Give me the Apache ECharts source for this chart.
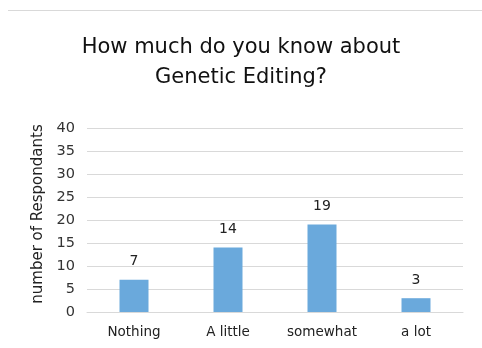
<!DOCTYPE html>
<html>
<head>
<meta charset="utf-8">
<style>
  html, body { margin: 0; padding: 0; background: #fff; }
  #chart { width: 482px; height: 348px; }
</style>
<script src="https://cdn.jsdelivr.net/npm/echarts@6/dist/echarts.min.js"></script>
</head>
<body>
<div id="chart"></div>
<script>
const categories = ['Nothing', 'A little', 'somewhat', 'a lot'];
const respondents = [7, 14, 19, 3];
const yTicks = { min: 0, max: 40, interval: 5 };

const chart = echarts.init(document.getElementById('chart'), null, { renderer: 'canvas' });
const font = '"DejaVu Sans", Verdana, sans-serif';

chart.setOption({
  animation: false,
  graphic: [{
    type: 'line',
    shape: { x1: 8, y1: 10.5, x2: 482, y2: 10.5 },
    style: { stroke: '#d9d9d9', lineWidth: 1 }
  }],
  title: {
    text: 'How much do you know about\nGenetic Editing?',
    left: 'center',
    top: 28,
    textStyle: { fontFamily: font, fontSize: 21, fontWeight: 'normal', color: '#111', lineHeight: 30 }
  },
  grid: { left: 87, right: 19, top: 128, bottom: 36 },
  xAxis: {
    type: 'category',
    data: categories,
    axisLine: { lineStyle: { color: '#d9d9d9' } },
    axisTick: { show: false },
    axisLabel: { fontFamily: font, fontSize: 13.5, color: '#222', margin: 13 }
  },
  yAxis: {
    type: 'value',
    min: yTicks.min, max: yTicks.max, interval: yTicks.interval,
    name: 'number of Respondants',
    nameLocation: 'middle',
    nameGap: 40,
    nameTextStyle: { fontFamily: font, fontSize: 15, color: '#222', padding: [0, 0, 0, 12] },
    axisLine: { show: false },
    axisTick: { show: false },
    axisLabel: { fontFamily: font, fontSize: 14.5, color: '#333', margin: 12 },
    splitLine: { lineStyle: { color: '#d9d9d9' } }
  },
  series: [{
    type: 'bar',
    data: respondents,
    barWidth: 29,
    itemStyle: { color: '#6aa9dc' },
    label: { show: true, position: 'top', distance: 11, fontFamily: font, fontSize: 14, color: '#222' }
  }]
});
</script>
</body>
</html>
